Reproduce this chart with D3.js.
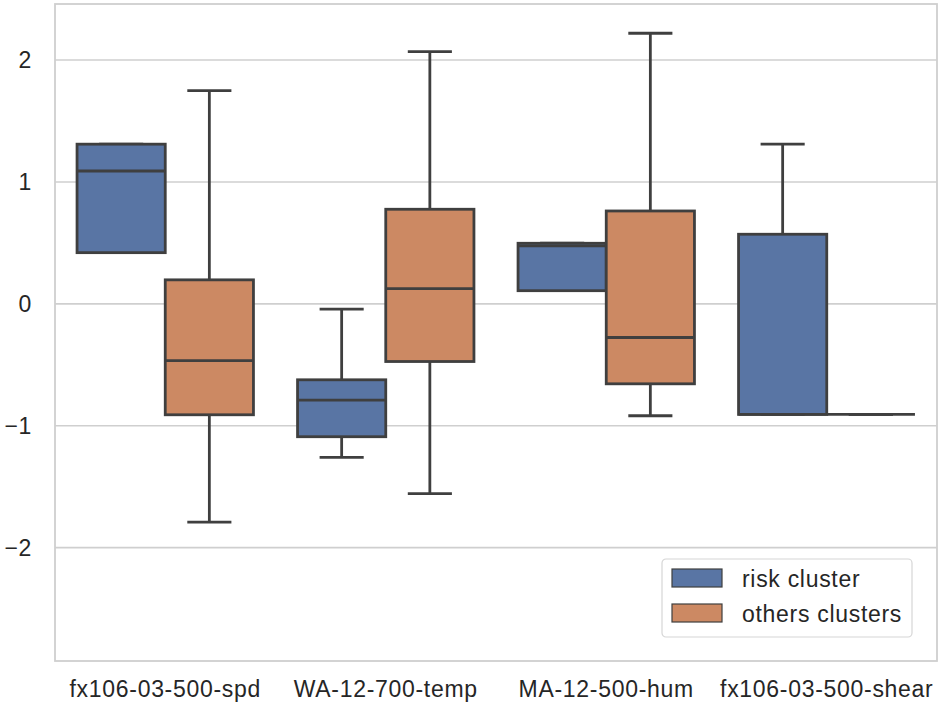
<!DOCTYPE html>
<html>
<head>
<meta charset="utf-8">
<script src="https://cdn.jsdelivr.net/npm/d3@7"></script>
<style>
  body { margin: 0; background: #fff; }
  text { font-family: "Liberation Sans", Arial, sans-serif; fill: #262626; }
</style>
</head>
<body>
<script>
var categories = ["fx106-03-500-spd", "WA-12-700-temp", "MA-12-500-hum", "fx106-03-500-shear"];
var seriesNames = ["risk cluster", "others clusters"];
var seriesColors = ["#5975a4", "#cc8963"];
var yTicks = [-2, -1, 0, 1, 2];

// risk cluster
var riskLow  = [0.42, -1.26, 0.108, -0.907];
var riskQ1   = [0.42, -1.09, 0.108, -0.907];
var riskMed  = [1.09, -0.79, 0.475, -0.907];
var riskQ3   = [1.31, -0.623, 0.497, 0.571];
var riskHigh = [1.31, -0.044, 0.497, 1.31];

// others clusters
var othLow  = [-1.79, -1.557, -0.918, -0.907];
var othQ1   = [-0.91, -0.473, -0.656, -0.907];
var othMed  = [-0.465, 0.125, -0.276, -0.907];
var othQ3   = [0.197, 0.776, 0.762, -0.907];
var othHigh = [1.75, 2.07, 2.22, -0.907];

var seriesStats = [
  {low: riskLow, q1: riskQ1, med: riskMed, q3: riskQ3, high: riskHigh},
  {low: othLow, q1: othQ1, med: othMed, q3: othQ3, high: othHigh}
];

var W = 941, H = 710;
var margin = {top: 4, right: 4, bottom: 49, left: 55};

var svg = d3.select("body").append("svg").attr("width", W).attr("height", H);

var x = d3.scaleBand().domain(categories)
          .range([margin.left, W - margin.right]).padding(0);
var xs = d3.scaleBand().domain(d3.range(seriesNames.length))
          .range([0, x.bandwidth() * 0.8]);
var y = d3.scaleLinear().domain([-2.93, 2.46])
          .range([H - margin.bottom, margin.top]);

// grid
svg.append("g").selectAll("line").data(yTicks).enter().append("line")
    .attr("x1", margin.left).attr("x2", W - margin.right)
    .attr("y1", function(d){ return y(d); }).attr("y2", function(d){ return y(d); })
    .attr("stroke", "#cfcfcf").attr("stroke-width", 1.6);

// frame
svg.append("rect")
    .attr("x", margin.left).attr("y", margin.top)
    .attr("width", W - margin.left - margin.right)
    .attr("height", H - margin.top - margin.bottom)
    .attr("fill", "none").attr("stroke", "#cfcfcf").attr("stroke-width", 1.8);

// y axis labels
var yAxis = d3.axisLeft(y).tickValues(yTicks).tickSize(0).tickPadding(23)
    .tickFormat(function(d){ return d < 0 ? "\u2212" + Math.abs(d) : d; });
svg.append("g").attr("transform", "translate(" + margin.left + ",0)").call(yAxis)
   .call(function(g){ g.select(".domain").remove(); })
   .selectAll("text").style("font-size", "23px").style("letter-spacing", "0.7px")
   .style("font-family", "'Liberation Sans', Arial, sans-serif").attr("fill", "#262626");

// x axis labels
var xAxis = d3.axisBottom(x).tickSize(0).tickPadding(20);
svg.append("g").attr("transform", "translate(0," + (H - margin.bottom) + ")").call(xAxis)
   .call(function(g){ g.select(".domain").remove(); })
   .selectAll("text").style("font-size", "23px").style("letter-spacing", "0.7px")
   .style("font-family", "'Liberation Sans', Arial, sans-serif").attr("fill", "#262626");

var edge = "#3f3f3f", lw = 2.8;

seriesStats.forEach(function(s, si) {
  var g = svg.append("g");
  categories.forEach(function(c, ci) {
    var x0 = x(c) + x.bandwidth() * 0.1 + xs(si);
    var bw = xs.bandwidth();
    var cx = x0 + bw / 2;
    // whiskers
    g.append("line").attr("x1", cx).attr("x2", cx)
      .attr("y1", y(s.q3[ci])).attr("y2", y(s.high[ci]))
      .attr("stroke", edge).attr("stroke-width", lw);
    g.append("line").attr("x1", cx).attr("x2", cx)
      .attr("y1", y(s.q1[ci])).attr("y2", y(s.low[ci]))
      .attr("stroke", edge).attr("stroke-width", lw);
    // caps
    [s.low[ci], s.high[ci]].forEach(function(v) {
      g.append("line").attr("x1", cx - bw / 4).attr("x2", cx + bw / 4)
        .attr("y1", y(v)).attr("y2", y(v))
        .attr("stroke", edge).attr("stroke-width", lw);
    });
    // box
    g.append("rect").attr("x", x0).attr("width", bw)
      .attr("y", y(s.q3[ci])).attr("height", Math.max(0, y(s.q1[ci]) - y(s.q3[ci])))
      .attr("fill", seriesColors[si]).attr("stroke", edge).attr("stroke-width", lw);
    // median
    g.append("line").attr("x1", x0).attr("x2", x0 + bw)
      .attr("y1", y(s.med[ci])).attr("y2", y(s.med[ci]))
      .attr("stroke", edge).attr("stroke-width", lw);
  });
});

// legend
var lg = svg.append("g").attr("transform", "translate(662,559)");
lg.append("rect").attr("width", 250).attr("height", 78).attr("rx", 4)
  .attr("fill", "#fff").attr("fill-opacity", 0.8)
  .attr("stroke", "#d6d6d6").attr("stroke-width", 1.2);
seriesNames.forEach(function(n, i) {
  var row = lg.append("g").attr("transform", "translate(10," + (10 + i * 35) + ")");
  row.append("rect").attr("width", 50).attr("height", 18)
    .attr("fill", seriesColors[i]).attr("stroke", edge).attr("stroke-width", 1.2);
  row.append("text").attr("x", 70).attr("y", 18).text(n)
    .style("font-size", "23px").style("letter-spacing", "0.7px");
});
</script>
</body>
</html>
